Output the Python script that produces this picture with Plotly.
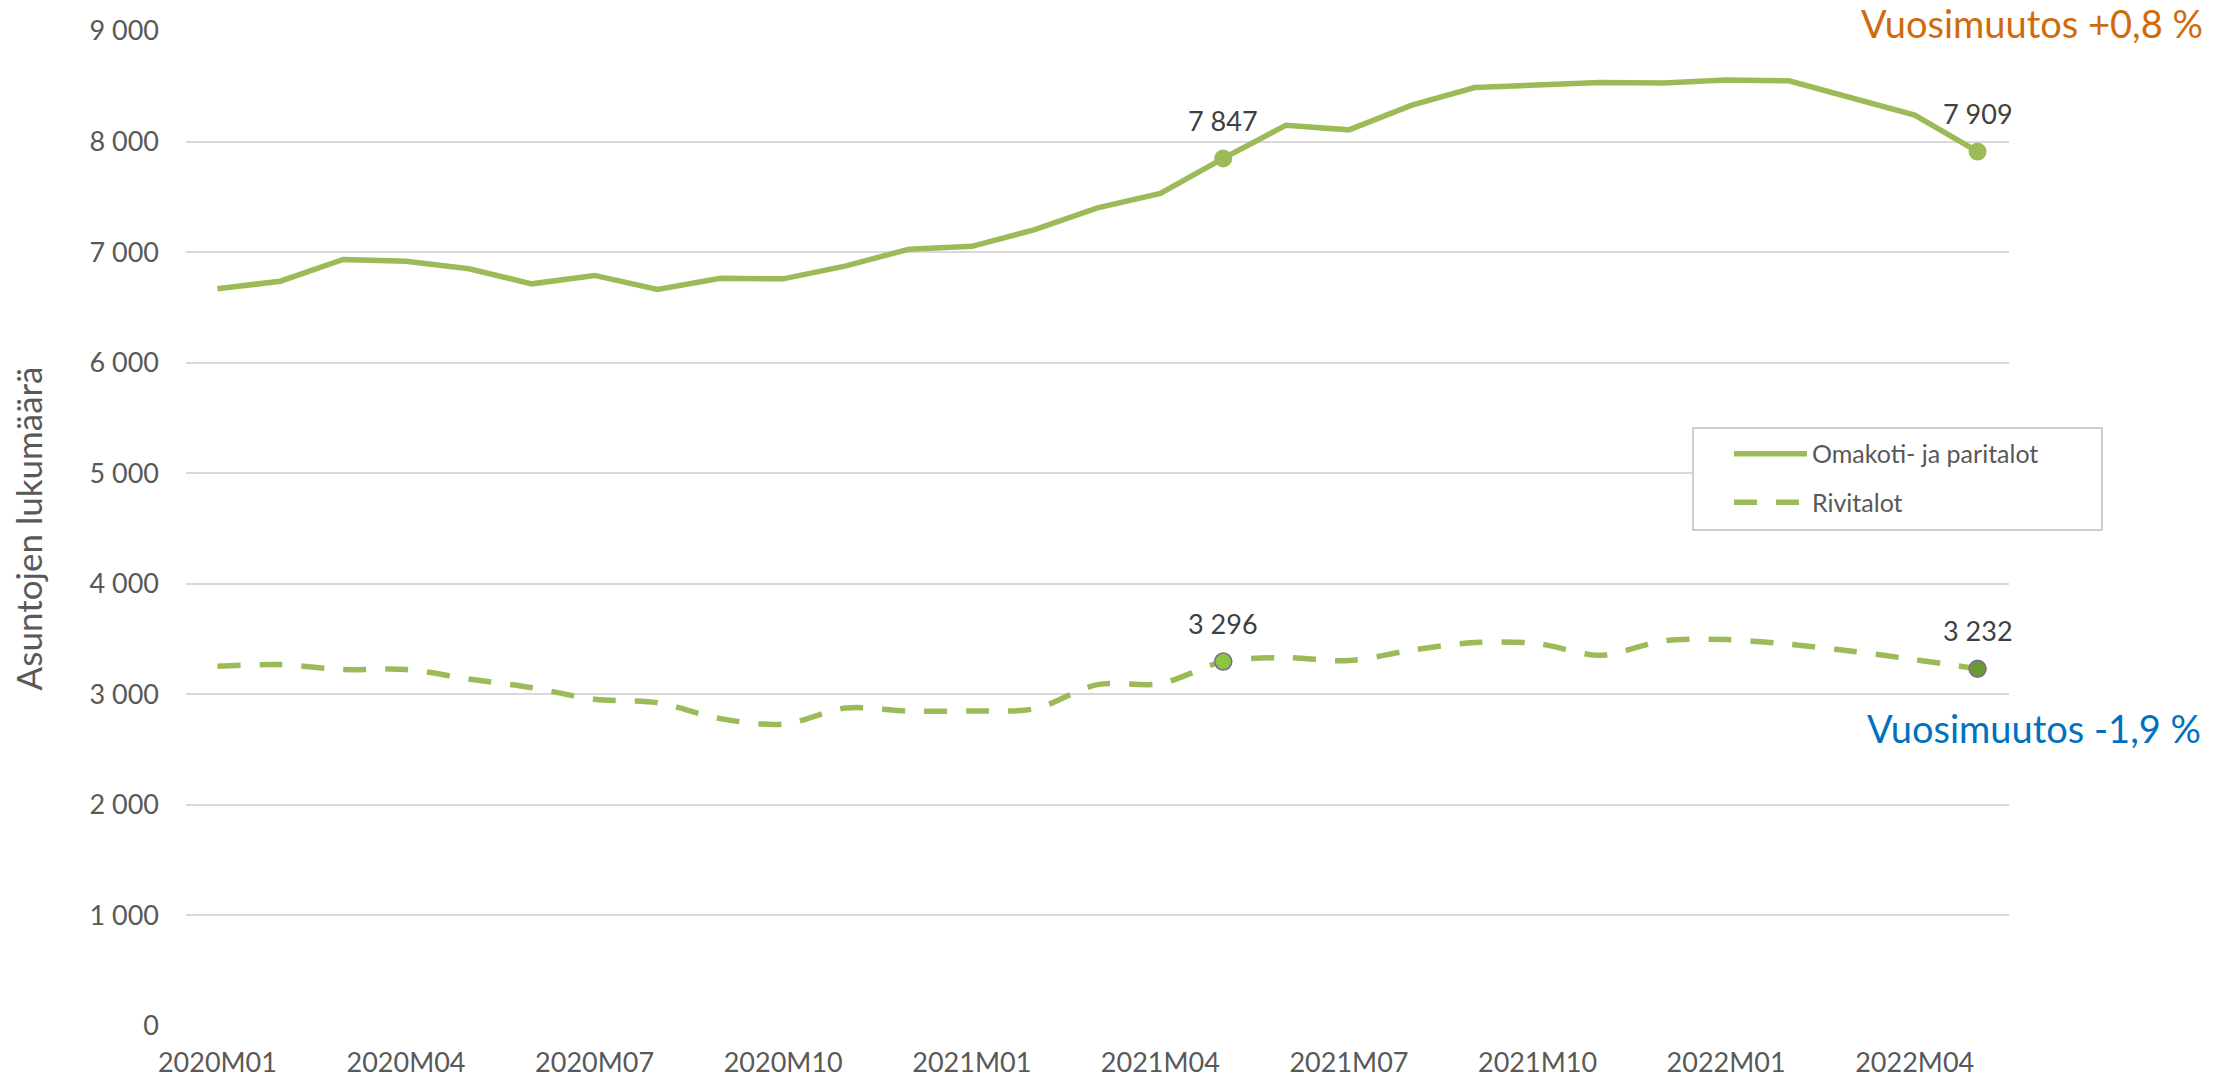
import plotly.graph_objects as go

# Months on the x axis
months = [
    "2020M01", "2020M02", "2020M03", "2020M04", "2020M05", "2020M06",
    "2020M07", "2020M08", "2020M09", "2020M10", "2020M11", "2020M12",
    "2021M01", "2021M02", "2021M03", "2021M04", "2021M05", "2021M06",
    "2021M07", "2021M08", "2021M09", "2021M10", "2021M11", "2021M12",
    "2022M01", "2022M02", "2022M03", "2022M04", "2022M05",
]
tick_months = ["2020M01", "2020M04", "2020M07", "2020M10", "2021M01",
               "2021M04", "2021M07", "2021M10", "2022M01", "2022M04"]

# Number of dwellings per series
omakoti = [6668, 6737, 6934, 6918, 6849, 6713, 6789, 6662, 6764, 6758, 6876, 7027,
           7052, 7203, 7400, 7530, 7847, 8148, 8106, 8330, 8489, 8510, 8535, 8529,
           8556, 8550, 8393, 8239, 7909]
rivitalot = [3254, 3269, 3224, 3224, 3139, 3060, 2955, 2924, 2780, 2730, 2876, 2849,
             2849, 2870, 3088, 3097, 3296, 3332, 3305, 3400, 3468, 3459, 3353, 3483,
             3495, 3453, 3390, 3314, 3232]

# points that get a marker and a value label
highlight = [16, 28]

green = "#9BBB59"
font = "Lato, Calibri, sans-serif"


def fmt(v):
    return f"{v:,}".replace(",", " ")


fig = go.Figure()

fig.add_trace(go.Scatter(
    x=months, y=omakoti, mode="lines", name="Omakoti- ja paritalot",
    legendgroup="a", line=dict(color=green, width=5.5)))
fig.add_trace(go.Scatter(
    x=months, y=rivitalot, mode="lines", name="Rivitalot",
    legendgroup="b", line=dict(color=green, width=5.5, dash="23px,19px", shape="spline", smoothing=0.9)))

# highlighted markers
fig.add_trace(go.Scatter(
    x=[months[i] for i in highlight], y=[omakoti[i] for i in highlight],
    mode="markers", showlegend=False,
    marker=dict(color=green, size=18, line=dict(width=0))))
fig.add_trace(go.Scatter(
    x=[months[i] for i in highlight], y=[rivitalot[i] for i in highlight],
    mode="markers", showlegend=False,
    marker=dict(color=["#8CC63F", "#6A9A2E"], size=17, line=dict(color="#8064A2", width=1.5))))

for series in (omakoti, rivitalot):
    for i in highlight:
        fig.add_annotation(x=months[i], y=series[i], text=fmt(series[i]),
                           showarrow=False, yshift=38,
                           font=dict(family=font, size=27, color="#404040"))

# year-on-year change notes
fig.add_annotation(xref="paper", yref="paper", x=1.1075, y=1.008,
                   xanchor="right", yanchor="middle", showarrow=False,
                   text="Vuosimuutos +0,8 %", font=dict(family=font, size=38, color="#D06A0A"))
fig.add_annotation(xref="paper", yref="paper", x=1.1065, y=0.299,
                   xanchor="right", yanchor="middle", showarrow=False,
                   text="Vuosimuutos -1,9 %", font=dict(family=font, size=38, color="#0070C0"))

# legend frame
fig.add_shape(type="rect", xref="paper", yref="paper", x0=0.8267, x1=1.051, y0=0.4985, y1=0.601,
              line=dict(color="#BFBFBF", width=1.5), fillcolor="white", layer="above")

fig.update_layout(
    width=2234, height=1080,
    margin=dict(l=186, r=225, t=31, b=54),
    plot_bgcolor="white", paper_bgcolor="white",
    separators=", ",
    font=dict(family=font, color="#595959"),
    legend=dict(x=0.8464, y=0.598, xanchor="left", yanchor="top",
                borderwidth=0, bgcolor="rgba(0,0,0,0)",
                font=dict(family=font, size=25, color="#595959"),
                tracegroupgap=13, itemwidth=73),
)
fig.update_xaxes(type="category", range=[-0.5, 28.5], tickmode="array",
                 tickvals=tick_months, ticktext=tick_months, showgrid=False,
                 showline=False, zeroline=False, automargin=False,
                 ticklabelstandoff=18, tickfont=dict(family=font, size=27, color="#595959"))
fig.update_yaxes(range=[0, 9000], dtick=1000, tickformat=",d", showgrid=True,
                 gridcolor="#D9D9D9", gridwidth=1.5, zeroline=False, automargin=False,
                 ticklabelstandoff=26, tickfont=dict(family=font, size=27, color="#595959"),
                 title=dict(text="Asuntojen lukumäärä", standoff=36,
                            font=dict(family=font, size=35, color="#595959")))

fig.write_html("out.html", config={"displayModeBar": False},
               post_script="document.body.style.margin='0';")
